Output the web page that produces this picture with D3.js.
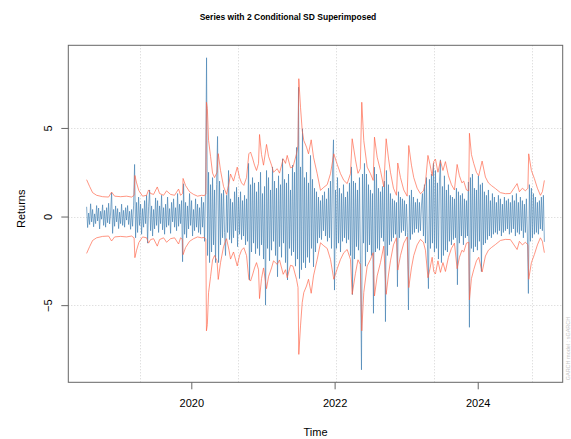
<!DOCTYPE html>
<html><head><meta charset="utf-8">
<script src="https://cdn.jsdelivr.net/npm/d3@7"></script>
<style>body{margin:0;background:#fff}svg{display:block}</style>
</head><body><svg id="c" width="571" height="439"></svg>
<script>
// ---- data ----
const startDate = "2018-07-16";
const endDate = "2024-12-06";
const returns = [
0.55,-0.62,0.2,-0.45,0.72,-0.3,0.4,-0.58,0.15,-0.4,
0.62,-0.25,0.48,-0.7,0.3,-0.15,0.66,-0.5,0.35,-0.6,
0.5,-0.35,0.75,-0.42,0.2,1.35,-0.95,0.4,-0.55,0.6,
-0.3,0.45,-0.68,0.25,-0.4,0.7,-0.5,0.35,-0.6,0.5,
-0.2,0.62,-0.45,0.3,-0.72,0.4,-0.55,0.6,2.94,-1.2,
0.8,-0.9,1.1,-0.5,0.7,-1.0,0.45,-0.6,0.9,-0.4,
1.2,-1.5,0.55,1.5,-0.8,0.6,-1.1,0.4,-0.7,1.05,
-0.5,0.9,-0.9,0.6,-0.4,1.2,-0.75,0.5,-1.0,0.7,
-0.6,1.1,-0.5,0.45,-0.95,0.8,-0.3,1.0,-0.6,0.5,
-0.8,1.3,-0.55,0.7,-0.4,0.9,-2.55,1.85,-1.0,0.8,
-1.2,0.6,-0.7,1.3,-0.5,0.9,-1.1,0.4,-0.8,1.0,
-0.6,0.7,-0.9,0.5,-1.0,1.1,-0.6,0.8,-1.4,1.5,
8.96,-2.2,2.5,-2.6,1.8,-2.0,2.2,-1.6,1.5,-2.6,
1.8,4.52,-2.6,2.0,-1.6,1.3,-1.2,1.5,-0.9,-2.2,
1.2,-0.9,2.6,-1.3,1.0,-1.5,0.8,-1.2,1.4,-0.8,
1.65,-1.7,1.1,-1.0,1.4,-1.3,0.9,-1.1,1.2,-1.6,
1.0,-1.4,3.0,-3.58,1.8,-2.0,2.2,-1.5,1.9,-2.1,
1.4,-1.8,1.95,-2.2,2.5,-1.6,1.3,-2.4,1.7,-5.0,
2.6,-1.8,2.2,-2.5,1.5,-1.9,2.8,-1.4,2.0,-2.2,
1.6,-3.4,2.3,-1.7,1.8,-2.3,3.26,-1.5,2.1,-2.6,
1.9,-3.58,2.4,-1.8,1.5,-2.2,2.9,-2.0,2.5,-2.8,
3.9,-2.4,7.3,-3.5,2.8,-3.0,4.95,-2.6,2.2,-2.9,
2.5,-2.3,1.9,-2.6,3.45,-1.8,2.1,-2.84,1.6,-2.0,
1.4,-1.5,1.1,-1.2,0.9,-1.3,1.2,-0.8,1.4,-1.1,
1.0,-1.4,1.6,-1.2,2.0,-1.8,2.4,4.33,-4.15,1.5,
-1.8,2.2,-1.5,1.6,-2.0,1.3,-1.4,1.8,-1.2,1.1,
-1.5,1.4,-1.3,1.9,-2.2,2.8,-4.4,2.0,-2.4,1.9,
-1.7,1.5,-1.9,2.2,-2.6,-8.65,2.4,-1.5,3.0,-2.8,
2.4,-2.0,1.8,-1.6,1.5,-2.2,1.3,-5.46,2.79,-2.0,
2.4,-1.8,1.6,-1.9,1.4,-1.2,1.7,-1.4,2.0,-5.93,
2.6,-2.2,1.8,-1.6,1.3,-1.4,1.0,-1.2,0.9,-1.0,
0.8,-3.96,1.4,-1.2,1.1,-0.9,1.0,-0.8,0.9,-1.1,
0.7,-0.9,-5.27,1.2,-1.3,1.5,-1.0,1.1,-0.9,0.8,
-0.7,1.0,-0.9,0.8,-0.8,0.6,1.3,-1.1,1.8,-1.5,
2.2,-1.6,-4.07,2.1,-1.8,2.4,-1.5,3.0,-2.0,2.6,
-1.8,1.9,-2.4,2.0,3.2,-2.6,1.7,-2.2,2.3,-1.9,
1.5,-2.0,1.8,-1.4,1.2,-1.6,1.1,-1.3,1.0,-1.2,
1.6,-3.85,1.4,-1.5,1.2,-1.1,1.3,-1.6,1.0,-1.2,
0.9,-1.1,1.95,-6.25,2.2,-1.8,2.4,-2.0,1.6,-1.7,
1.5,-1.9,2.3,-1.4,1.8,-3.1,1.9,-1.6,1.4,-1.5,
1.2,-1.3,1.5,-1.1,0.9,-1.2,1.3,-1.0,1.1,-0.9,
0.8,-1.0,1.2,-0.8,1.0,-1.1,0.7,-0.9,1.1,-0.8,
0.9,-0.7,1.0,-1.0,0.8,-0.9,1.2,-0.7,0.9,-1.1,
1.3,-0.9,0.8,-1.0,1.1,-0.8,0.9,-1.2,0.7,-0.9,
1.0,-1.1,-4.34,1.8,-1.4,1.6,-1.2,1.3,-1.0,1.1,
-0.9,0.8,-1.0,0.9,-0.7,1.1,-0.8,1.2,-1.43
];
// observation index at which the 2*conditional SD was read, and its value
const sigmaIdx = [0,3,6,10,16,22,25,28,34,40,45,47.5,48.3,50,52.3,56,60,62,64,67,70.7,73,77,80,84,88,92,94,96,96.5,99,103,107,111,115,118,119.3,119.9,120.8,122,124,126,128,130.5,131.7,134,137,140,142.5,144,147,150.7,153,155,157.3,160,162.3,164,166,168,170,172,173,175,177,180,182,185,187,190.7,193,196.7,199,200.7,204,206.5,210,211.5,212.3,214,215.7,217.3,220,222,224.7,227,230.7,234,237.3,240.7,244,247.3,250.7,254,257.3,260.7,264,265.7,269,271.5,273.8,275.3,277.3,280.7,284,286.7,288,290.7,294,297.3,299.7,302,304,307,310,311.3,314,317.3,320.7,322.3,325,327.3,330.7,334,337,339,341.5,343.5,345.7,347.3,349,351.5,354,356.5,359,362,365,368,370.7,373,375.5,377.3,380,382.3,383,385,387.3,390,392.3,395.7,399,402,405,409,414,419,424,427,430.7,433,436,439,441.5,442.3,445,448,451,454,456,458];
const sigma2 = [2.08,1.7,1.35,1.2,1.12,1.1,1.38,1.15,1.12,1.15,1.1,1.2,2.32,1.9,1.46,1.15,1.2,1.5,1.3,1.25,1.67,1.3,1.2,1.45,1.25,1.2,1.55,1.2,1.3,2.15,1.75,1.4,1.25,1.15,1.2,1.18,1.3,6.45,6.1,4.3,3.4,2.45,2.2,2.5,3.55,2.6,1.7,1.25,1.9,2.4,2.0,2.79,2.2,1.9,1.76,2.2,3.54,3.64,3.3,2.9,2.6,3.0,4.63,3.5,2.9,4.07,3.4,2.9,2.5,2.7,2.45,3.26,3.0,3.45,2.75,2.8,3.54,4.0,7.78,6.17,4.86,4.29,3.92,3.54,4.33,3.35,2.42,1.48,1.65,1.8,2.42,3.54,2.95,2.42,2.04,1.86,2.42,4.39,3.2,2.44,2.7,6.45,4.29,2.79,2.42,2.04,4.48,3.35,2.6,1.67,4.39,3.3,2.5,1.6,1.2,3.02,2.2,1.5,1.15,4.01,2.9,2.2,1.6,1.29,1.45,1.9,3.45,2.95,2.3,3.1,3.24,2.5,3.15,2.6,3.1,2.3,1.8,1.5,2.94,2.3,1.9,2.0,1.5,1.45,4.7,3.5,3.0,2.5,2.3,3.13,2.23,1.9,1.75,1.58,1.35,1.29,1.3,1.55,1.86,1.4,1.6,1.45,1.6,3.54,2.6,2.14,1.6,1.2,1.4,2.04];
const yTicks = [-5, 0, 5];
const xTickYears = [2020, 2022, 2024];
const gridDayNumbers = [18000, 18500, 19000, 19500, 20000]; // days since 1970-01-01
const titleText = "Series with 2 Conditional SD Superimposed";
const xLabel = "Time", yLabel = "Returns";
const sideNote = "GARCH model : sGARCH";

// ---- layout ----
const L = 68.3, R = 562.7, T = 45.3, B = 382.3;
const svg = d3.select("#c");
const FONT = "'Liberation Sans', Arial, Helvetica, sans-serif";

const t0 = new Date(startDate + "T00:00:00Z"), t1 = new Date(endDate + "T00:00:00Z");
const n = returns.length;
const step = (t1 - t0) / (n - 1);
const dateAt = i => new Date(+t0 + i * step);
const pad = 0.04 * (t1 - t0);
const x = d3.scaleUtc().domain([new Date(+t0 - pad), new Date(+t1 + pad)]).range([L, R]);

const lo = Math.min(d3.min(returns), -d3.max(sigma2));
const hi = Math.max(d3.max(returns), d3.max(sigma2));
const yp = 0.04 * (hi - lo);
const y = d3.scaleLinear().domain([lo - yp, hi + yp]).range([B, T]);

// grid
const grid = svg.append("g").attr("stroke", "#d3d3d3").attr("stroke-width", 1).attr("stroke-dasharray", "1,2");
gridDayNumbers.forEach(d => {
  const gx = Math.round(x(new Date(d * 86400000))) + 0.5;
  grid.append("line").attr("x1", gx).attr("x2", gx).attr("y1", T).attr("y2", B);
});
yTicks.forEach(v => {
  const gy = Math.round(y(v)) + 0.5;
  grid.append("line").attr("x1", L).attr("x2", R).attr("y1", gy).attr("y2", gy);
});

// series
const line = d3.line().x((d, i) => x(dateAt(i))).y(d => y(d));
svg.append("path").datum(returns).attr("d", line)
  .attr("fill", "none").attr("stroke", "#4682B4").attr("stroke-width", 0.75).attr("stroke-opacity", 0.9);

const sig = sigmaIdx.map((k, j) => ({k, v: sigma2[j]}));
const sUp = d3.line().x(d => x(dateAt(d.k))).y(d => y(d.v));
const sDn = d3.line().x(d => x(dateAt(d.k))).y(d => y(-d.v));
svg.append("path").datum(sig).attr("d", sUp).attr("fill", "none").attr("stroke", "#FF6347").attr("stroke-width", 0.8).attr("stroke-opacity", 0.85);
svg.append("path").datum(sig).attr("d", sDn).attr("fill", "none").attr("stroke", "#FF6347").attr("stroke-width", 0.8).attr("stroke-opacity", 0.85);

// box
svg.append("rect").attr("x", L).attr("y", T).attr("width", R - L).attr("height", B - T)
  .attr("fill", "none").attr("stroke", "#666").attr("stroke-width", 1);

// x axis
const xTickDates = xTickYears.map(yr => new Date(Date.UTC(yr, 0, 1)));
const xa = svg.append("g").attr("transform", `translate(0,${B})`)
  .call(d3.axisBottom(x).tickValues(xTickDates).tickFormat(d3.utcFormat("%Y")).tickSize(7).tickPadding(10));
xa.select(".domain").remove();
xa.selectAll("line").attr("stroke", "#666");
xa.selectAll("text").attr("font-family", FONT).attr("font-size", 11).attr("fill", "#000");

// y axis
const ya = svg.append("g").attr("transform", `translate(${L},0)`)
  .call(d3.axisLeft(y).tickValues(yTicks).tickFormat(d3.format("d")).tickSize(7));
ya.select(".domain").remove();
ya.selectAll("line").attr("stroke", "#666");
ya.selectAll("text").attr("font-family", FONT).attr("font-size", 11).attr("fill", "#000")
  .attr("x", null).attr("dy", null)
  .attr("text-anchor", "middle")
  .attr("transform", `translate(-16.5,0) rotate(-90)`);

// labels
svg.append("text").attr("x", 288).attr("y", 19.5).attr("text-anchor", "middle")
  .attr("font-family", FONT).attr("font-weight", "bold").attr("font-size", 8.5).text(titleText);
svg.append("text").attr("x", (L + R) / 2).attr("y", 436).attr("text-anchor", "middle")
  .attr("font-family", FONT).attr("font-size", 11).text(xLabel);
svg.append("text").attr("transform", `translate(24.5,${(T + B) / 2 - 5}) rotate(-90)`).attr("text-anchor", "middle")
  .attr("font-family", FONT).attr("font-size", 11).text(yLabel);
svg.append("text").attr("transform", `translate(570,${B - 2}) rotate(-90)`).attr("text-anchor", "start")
  .attr("font-family", FONT).attr("font-size", 5.5).attr("fill", "#c8c8c8").text(sideNote);
</script></body></html>
